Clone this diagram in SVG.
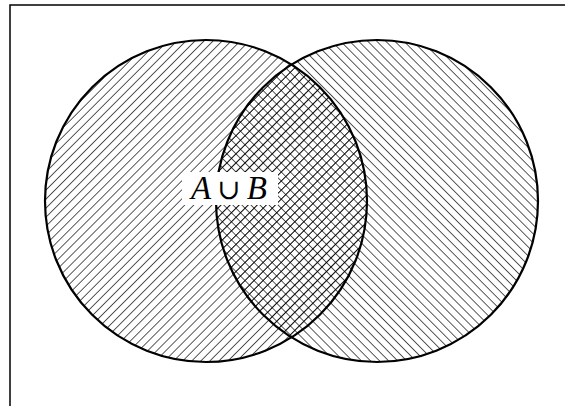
<svg xmlns="http://www.w3.org/2000/svg" width="565" height="406" viewBox="0 0 565 406">
  <defs>
    <pattern id="ne" patternUnits="userSpaceOnUse" width="6.4" height="6.4" patternTransform="rotate(45)">
      <line x1="0" y1="0" x2="0" y2="6.4" stroke="#000" stroke-width="1.3"/>
    </pattern>
    <pattern id="nw" patternUnits="userSpaceOnUse" width="6.4" height="6.4" patternTransform="rotate(-45)">
      <line x1="0" y1="0" x2="0" y2="6.4" stroke="#000" stroke-width="1.3"/>
    </pattern>
    <clipPath id="clipA"><circle cx="206" cy="201" r="161"/></clipPath>
  </defs>
  <style>
    .ring { fill: none; stroke: #000; stroke-width: 2.2; }
    .lbl { font-family: "Liberation Serif", "Times New Roman", serif; font-size: 33px; fill: #000; }
    .op { font-family: "DejaVu Serif", serif; font-size: 28px; }
  </style>
  <rect width="565" height="406" fill="#fff"/>
  <g id="frame">
    <polyline points="10,406 10,5 565,5" fill="none" stroke="#000" stroke-width="1.5"/>
  </g>
  <g id="setA">
    <circle cx="206" cy="201" r="161" fill="url(#ne)"/>
  </g>
  <g id="setB">
    <circle cx="377" cy="201" r="161" fill="url(#nw)"/>
    <circle cx="377" cy="201" r="161" fill="url(#ne)" clip-path="url(#clipA)"/>
  </g>
  <g id="outlines">
    <circle class="ring" cx="206" cy="201" r="161"/>
    <circle class="ring" cx="377" cy="201" r="161"/>
  </g>
  <g id="label">
    <rect x="182" y="172" width="96" height="33" fill="#fff"/>
    <text class="lbl" x="229" y="199" text-anchor="middle"><tspan font-style="italic">A</tspan><tspan class="op" dx="6">∪</tspan><tspan dx="6" font-style="italic">B</tspan></text>
  </g>
</svg>
